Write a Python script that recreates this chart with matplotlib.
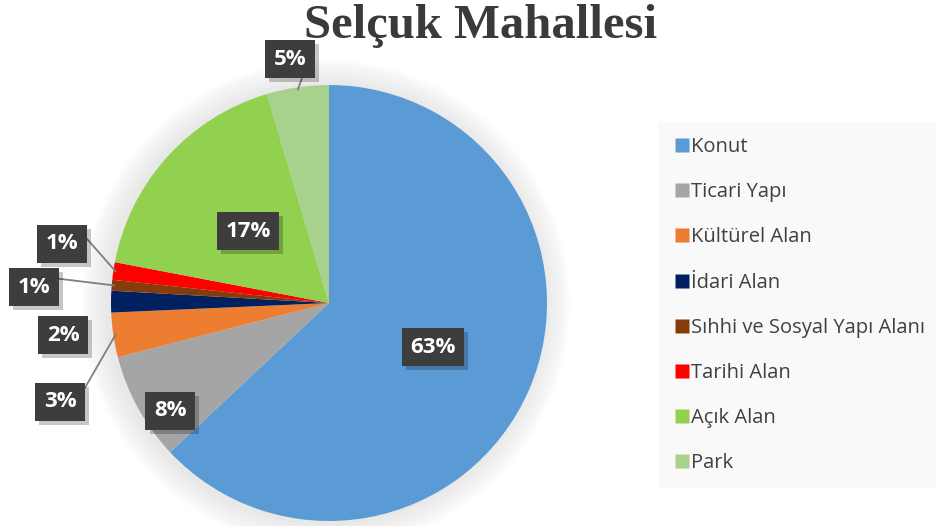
import matplotlib.pyplot as plt
import matplotlib.patheffects as pe
from matplotlib.lines import Line2D
import numpy as np

# data
categories = ["Konut", "Ticari Yapı", "Kültürel Alan", "İdari Alan",
              "Sıhhi ve Sosyal Yapı Alanı", "Tarihi Alan", "Açık Alan", "Park"]
shares = [63.0, 8.0, 3.3, 1.6, 0.8, 1.3, 17.4, 4.6]
colors = ["#5B9BD5", "#A5A5A5", "#ED7D31", "#002060",
          "#843C0C", "#FF0000", "#92D050", "#A9D18E"]

# where each percent box sits (data units, pie radius = 1) and whether it gets a leader line
label_pos = [(0.477, -0.202), (-0.729, -0.495), (-1.234, -0.454), (-1.220, -0.147),
             (-1.353, 0.073), (-1.225, 0.271), (-0.372, 0.330), (-0.179, 1.119)]
leader = [False, False, True, False, True, True, False, True]

W, H = 937, 526
fig = plt.figure(figsize=(W / 100, H / 100), dpi=100)
fig.patch.set_facecolor("white")

cx, cy, R = 329, 303, 218
span = 1.5
ax = fig.add_axes([(cx - span * R) / W, (H - cy - span * R) / H,
                   2 * span * R / W, 2 * span * R / H])

# soft halo behind the pie
for k in range(10):
    ax.add_patch(plt.Circle((-0.015, -0.005), 1.0 + 0.012 * (k + 1), color="#909090",
                            alpha=0.018, lw=0, zorder=0))

wedges, _ = ax.pie(shares, colors=colors, startangle=90, counterclock=False,
                   radius=1.0, wedgeprops=dict(linewidth=0), frame=True)
ax.set_xlim(-span, span)
ax.set_ylim(-span, span)
ax.axis("off")

total = sum(shares)
for w, val, (lx, ly), lead in zip(wedges, shares, label_pos, leader):
    pct = "%d%%" % round(100 * val / total)
    if lead:
        mid = np.deg2rad((w.theta1 + w.theta2) / 2)
        ax.plot([np.cos(mid) * 0.99, lx + 0.1], [np.sin(mid) * 0.99, ly + 0.04],
                color="#7f7f7f", lw=1.3, zorder=3)
    t = ax.text(lx, ly, pct, ha="center", va="center", color="white",
                fontsize=16, fontweight="bold", family="Open Sans", zorder=5,
                bbox=dict(boxstyle="square,pad=0.38", facecolor="#3d3d3d",
                          edgecolor="none"))
    t.get_bbox_patch().set_path_effects([
        pe.SimplePatchShadow(offset=(3, -3), shadow_rgbFace="#000000", alpha=0.22),
        pe.Normal()])

fig.text(481 / W, 1 - 26 / H, "Selçuk Mahallesi", ha="center", va="center",
         fontsize=35, fontweight="bold", family="Liberation Serif", color="#3a3a3a")

handles = [Line2D([], [], marker="s", linestyle="none", markersize=10.5,
                  markerfacecolor=c, markeredgecolor="none") for c in colors]
leg = fig.legend(handles, categories, loc="upper left",
                 bbox_to_anchor=(659 / W, 1 - 122 / H), frameon=True,
                 prop=dict(family="Open Sans", size=14.5), labelcolor="#404040",
                 labelspacing=1.25, handletextpad=0.1, handlelength=0.75,
                 borderpad=0.75, borderaxespad=0, fancybox=False)
leg.get_frame().set_facecolor("#f8f8f8")
leg.get_frame().set_edgecolor("none")

fig.savefig("out.png", dpi=100)
